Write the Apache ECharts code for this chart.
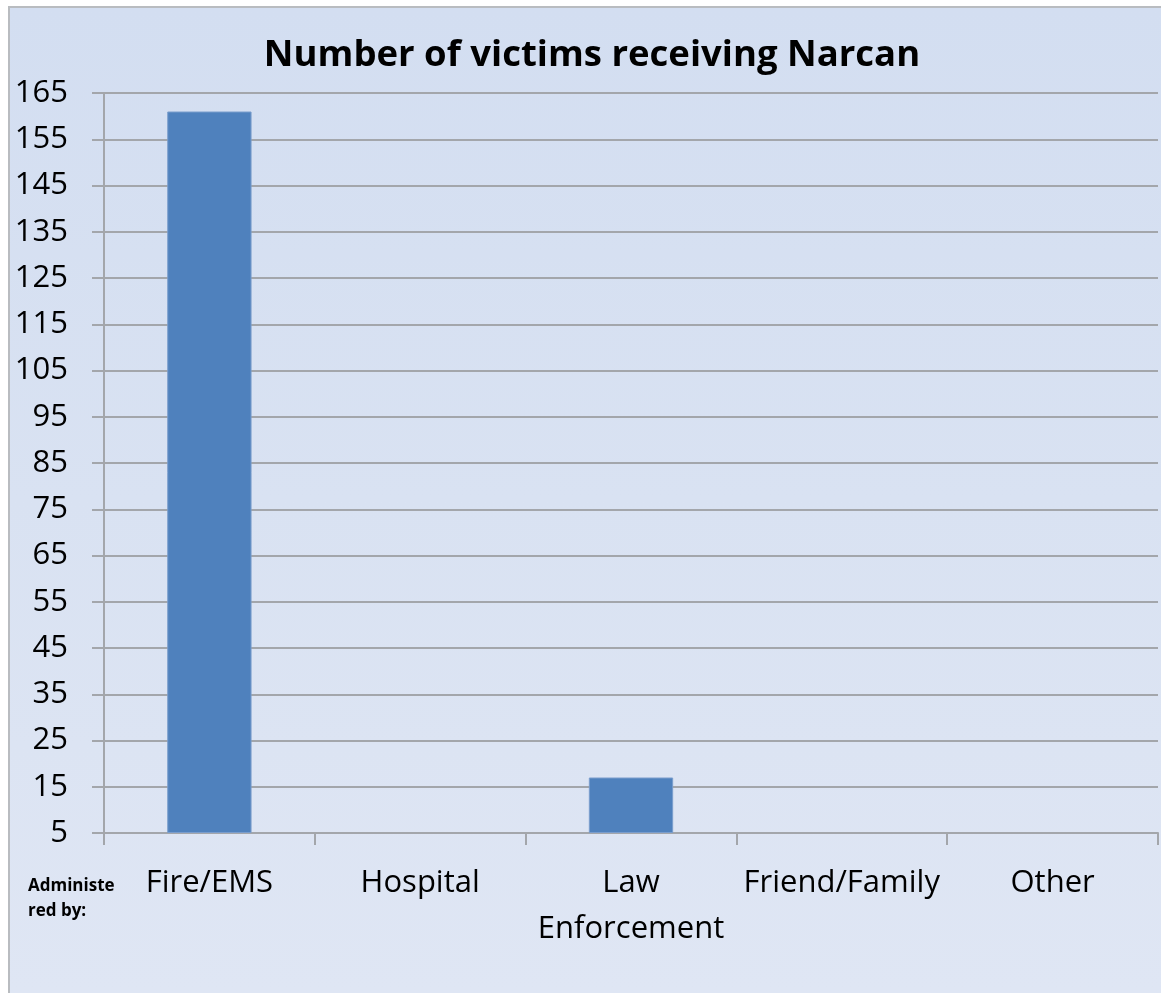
<!DOCTYPE html>
<html>
<head>
<meta charset="utf-8">
<script src="https://cdn.jsdelivr.net/npm/echarts@6/dist/echarts.min.js"></script>
<style>
  html, body { margin: 0; padding: 0; background: #ffffff; }
  #frame {
    position: absolute; left: 8px; top: 6px; width: 1153px; height: 987px;
    border-left: 2px solid #b9bcc0; border-top: 2px solid #b9bcc0;
    box-sizing: border-box;
    background: linear-gradient(to bottom, #d3def1 0%, #d9e2f2 50%, #dfe6f4 100%);
  }
  #chart { position: absolute; left: 0; top: 0; width: 1161px; height: 993px; }
</style>
</head>
<body>
<div id="frame"></div>
<div id="chart"></div>
<script>
const titleText = 'Number of victims receiving Narcan';
const categories = ['Fire/EMS', 'Hospital', 'Law\nEnforcement', 'Friend/Family', 'Other'];
const victims = [161, 0, 17, 0, 0];
const axisTitle = 'Administe\nred by:';
const yMin = 5, yMax = 165, yStep = 10;

const FONT = '"Open Sans", "Liberation Sans", sans-serif';
const GRID_COLOR = '#a3a6ab';

const chart = echarts.init(document.getElementById('chart'), null, { renderer: 'canvas' });
chart.setOption({
  backgroundColor: 'transparent',
  animation: false,
  title: {
    text: titleText,
    left: 592,
    top: 37,
    padding: 0,
    textAlign: 'center',
    textStyle: { fontFamily: FONT, fontSize: 36.5, fontWeight: 'bold', color: '#000000' }
  },
  grid: { left: 104, top: 93, right: 3, bottom: 160, containLabel: false, outerBoundsMode: 'none' },
  graphic: [{
    type: 'text',
    left: 28,
    top: 874,
    style: {
      text: axisTitle,
      font: 'bold 17px ' + FONT,
      fill: '#000000',
      lineHeight: 25
    }
  }],
  xAxis: {
    type: 'category',
    data: categories,
    boundaryGap: true,
    axisLine: { show: true, lineStyle: { color: GRID_COLOR, width: 2 } },
    axisTick: { show: true, length: 12, alignWithLabel: false, lineStyle: { color: GRID_COLOR, width: 2 } },
    axisLabel: {
      fontFamily: FONT, fontSize: 31, color: '#000000', margin: 27, lineHeight: 46,
      interval: 0
    },
    splitLine: { show: false }
  },
  yAxis: {
    type: 'value',
    min: yMin, max: yMax, interval: yStep,
    startValue: yMin,
    axisLine: { show: true, lineStyle: { color: GRID_COLOR, width: 2 } },
    axisTick: { show: true, length: 12, lineStyle: { color: GRID_COLOR, width: 2 } },
    axisLabel: { fontFamily: FONT, fontSize: 31, color: '#000000', margin: 36 },
    splitLine: { show: true, lineStyle: { color: GRID_COLOR, width: 2 } }
  },
  series: [{
    type: 'bar',
    data: victims,
    barWidth: '40%',
    itemStyle: { color: '#4f81bd', borderColor: '#7a9dcc', borderWidth: 1 },
    clip: true
  }]
});
</script>
</body>
</html>
